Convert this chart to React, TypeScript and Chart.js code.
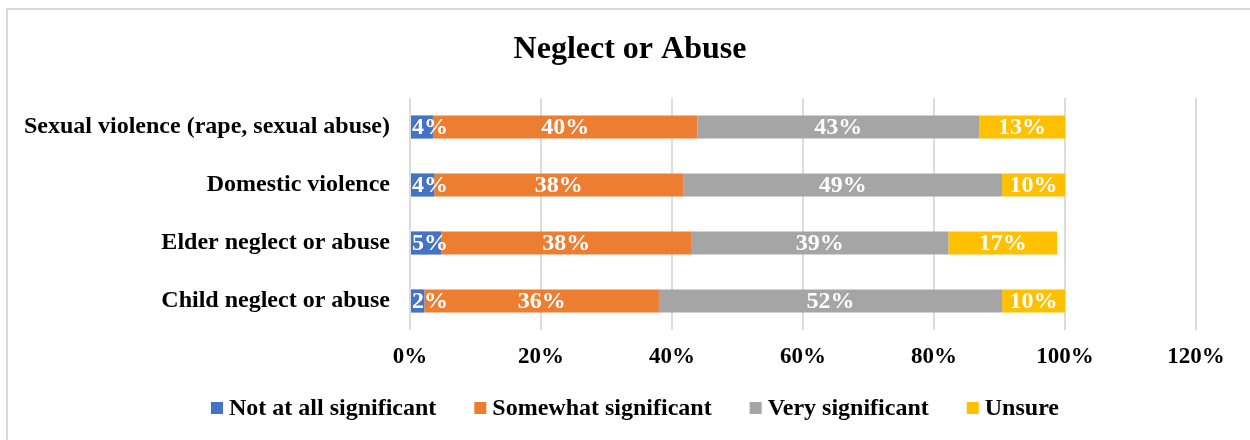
import React, { useEffect, useRef } from "react";
import { Chart, registerables } from "chart.js";

Chart.register(...registerables);

const categories = [
  "Sexual violence (rape, sexual abuse)",
  "Domestic violence",
  "Elder neglect or abuse",
  "Child neglect or abuse",
];
const notAtAll = [3.5, 3.7, 4.8, 2.2];
const somewhat = [40.4, 38.0, 38.1, 35.8];
const very = [43.0, 48.7, 39.3, 52.4];
const unsure = [13.1, 9.6, 16.6, 9.6];
const seriesNames = ["Not at all significant", "Somewhat significant", "Very significant", "Unsure"];
const seriesColors = ["#4472C4", "#ED7D31", "#A5A5A5", "#FFC000"];
const xTicks = [0, 20, 40, 60, 80, 100, 120];
const chartTitle = "Neglect or Abuse";

const FONT = '"Liberation Serif", "Times New Roman", serif';

const dataLabelPlugin = {
  id: "dataLabels",
  afterDatasetsDraw(chart: any) {
    const ctx = chart.ctx;
    const left = chart.chartArea.left;
    ctx.save();
    ctx.font = `bold 24px ${FONT}`;
    ctx.fillStyle = "#ffffff";
    ctx.textAlign = "center";
    ctx.textBaseline = "middle";
    chart.data.datasets.forEach((ds: any, di: number) => {
      const meta = chart.getDatasetMeta(di);
      meta.data.forEach((el: any, i: number) => {
        const v = ds.data[i];
        const text = Math.round(v) + "%";
        const w = ctx.measureText(text).width;
        let cx = (el.x + el.base) / 2;
        if (cx - w / 2 < left + 2) cx = left + 2 + w / 2;
        ctx.fillText(text, cx, el.y + 1);
      });
    });
    ctx.restore();
  },
};

const titleAndLegendPlugin = {
  id: "titleAndLegend",
  afterDraw(chart: any) {
    const ctx = chart.ctx;
    ctx.save();
    // title
    ctx.font = `bold 32px ${FONT}`;
    ctx.fillStyle = "#000000";
    ctx.textAlign = "center";
    ctx.textBaseline = "middle";
    ctx.fillText(chartTitle, chart.width / 2, 40);
    // legend
    ctx.font = `bold 24px ${FONT}`;
    const box = 12;
    const gap = 6;
    const spacing = 38;
    const widths = seriesNames.map((n) => ctx.measureText(n).width);
    const total =
      widths.reduce((a, b) => a + b, 0) + seriesNames.length * (box + gap) + (seriesNames.length - 1) * spacing;
    let x = (chart.width - total) / 2 + 5;
    const cy = 398;
    ctx.textAlign = "left";
    seriesNames.forEach((n, i) => {
      ctx.fillStyle = seriesColors[i];
      ctx.fillRect(x, cy - box / 2, box, box);
      x += box + gap;
      ctx.fillStyle = "#000000";
      ctx.fillText(n, x, cy + 1);
      x += widths[i] + spacing;
    });
    ctx.restore();
  },
};

export default function App() {
  const canvasRef = useRef<HTMLCanvasElement | null>(null);

  useEffect(() => {
    if (!canvasRef.current) return;
    const values = [notAtAll, somewhat, very, unsure];
    const chart = new Chart(canvasRef.current, {
      type: "bar",
      data: {
        labels: categories,
        datasets: seriesNames.map((name, i) => ({
          label: name,
          data: values[i],
          backgroundColor: seriesColors[i],
          borderWidth: 0,
          barPercentage: 0.4,
          categoryPercentage: 1,
        })),
      },
      options: {
        indexAxis: "y",
        animation: false,
        responsive: false,
        maintainAspectRatio: false,
        layout: { padding: { left: 0, right: 56, top: 88, bottom: 50 } },
        plugins: {
          legend: { display: false },
          tooltip: { enabled: false },
          title: { display: false },
        },
        scales: {
          x: {
            stacked: true,
            min: 0,
            max: 120,
            afterBuildTicks: (s: any) => {
              s.ticks = xTicks.map((v) => ({ value: v }));
            },
            afterFit: (s: any) => {
              s.height = 60;
            },
            ticks: {
              stepSize: 20,
              padding: 13,
              color: "#000000",
              font: { family: FONT, size: 23, weight: "bold" },
              callback: (v: any) => v + "%",
              maxRotation: 0,
            },
            grid: { color: "#dcdcdc", lineWidth: 2, drawTicks: false },
            border: { display: false },
          },
          y: {
            stacked: true,
            afterFit: (s: any) => {
              s.width = 402;
            },
            ticks: {
              padding: 20,
              color: "#000000",
              font: { family: FONT, size: 24, weight: "bold" },
            },
            grid: { display: false, drawTicks: false },
            border: { display: false },
          },
        },
      },
      plugins: [dataLabelPlugin, titleAndLegendPlugin],
    } as any);
    return () => chart.destroy();
  }, []);

  return (
    <div
      style={{
        position: "absolute",
        left: 6,
        top: 8,
        width: 1300,
        height: 500,
        borderLeft: "2px solid #d9d9d9",
        borderTop: "2px solid #d9d9d9",
        background: "#ffffff",
      }}
    >
      <canvas ref={canvasRef} width={1244} height={430} style={{ display: "block", width: 1244, height: 430 }} />
    </div>
  );
}
